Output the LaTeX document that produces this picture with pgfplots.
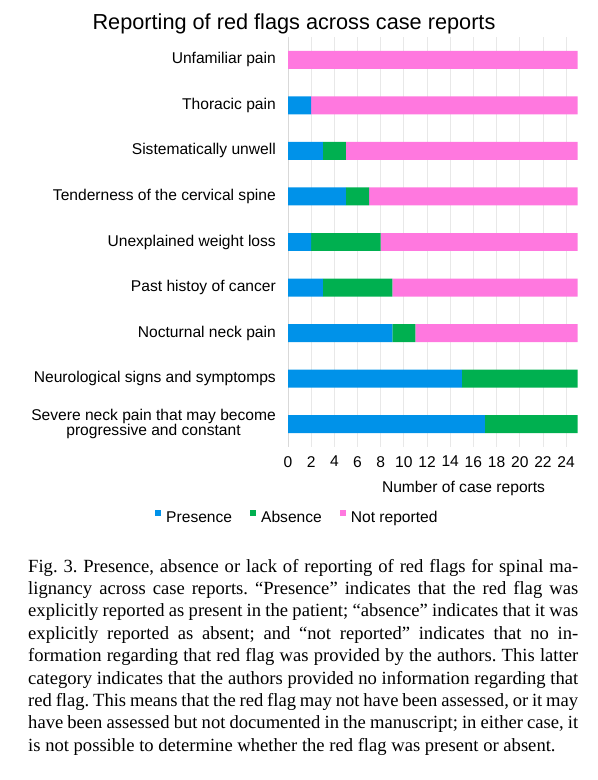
\documentclass[border=0pt]{standalone}
\usepackage{fontspec}
\setmainfont{Liberation Serif}
\setsansfont{Liberation Sans}
\usepackage{pgfplots}
\pgfplotsset{compat=1.18}
\usepackage{pgfplotstable}

\definecolor{presblue}{HTML}{0092E9}
\definecolor{absgreen}{HTML}{00B050}
\definecolor{nrpink}{HTML}{FF78DF}

% rows top to bottom: presence, absence, not reported
\pgfplotstableread{
row pres abs nrep
0 0 0 25
1 2 0 23
2 3 2 20
3 5 2 18
4 2 6 17
5 3 6 16
6 9 2 14
7 15 10 0
8 17 8 0
}\flags

\newcommand{\lab}{\sffamily\fontsize{15.6bp}{15bp}\selectfont}

\begin{document}
\frenchspacing
\begin{tikzpicture}
\useasboundingbox (0,0) rectangle (598bp,780bp);
\node[anchor=base, inner sep=0pt, font=\sffamily\fontsize{21.7bp}{26bp}\selectfont]
  at (294bp,750bp) {Reporting of red flags across case reports};
\begin{axis}[
  at={(288bp,333bp)}, anchor=south west,
  scale only axis, width=289.7bp, height=410bp,
  xbar stacked, bar width=0.395,
  xmin=0, xmax=25, ymin=-0.5, ymax=8.5, y dir=reverse,
  xtick={0,2,...,24}, ytick={0,...,8},
  yticklabels={Unfamiliar pain, Thoracic pain, Sistematically unwell,
    Tenderness of the cervical spine, Unexplained weight loss,
    Past histoy of cancer, Nocturnal neck pain,
    Neurological signs and symptomps,
    {Severe neck pain that may become\\progressive and constant}},
  axis x line*=bottom, axis y line*=left,
  x axis line style={draw=none}, y axis line style={draw=black!15, -},
  major tick length=0,
  xmajorgrids, grid style={draw=black!9, line width=0.8bp},
  /pgf/number format/assume math mode=true,
  xticklabel style={font=\lab, inner sep=0pt, anchor=north, yshift=-9bp},
  yticklabel style={font=\lab, align=center, inner sep=0pt, anchor=east, xshift=-12bp},
  xlabel={Number of case reports},
  xlabel style={font=\lab, at={(axis description cs:0.606,0)}, anchor=base, yshift=-45bp, inner sep=0pt},
  legend columns=3,
  legend style={at={(axis description cs:0.029,-0.17)}, anchor=center,
    draw=none, fill=none, inner sep=0pt, font=\lab,
    nodes={inner sep=0pt},
    /tikz/every odd column/.append style={column sep=5bp},
    /tikz/every even column/.append style={column sep=18bp}},
  legend image code/.code={\fill (0bp,2bp) rectangle (6bp,8bp);},
]
\addplot[draw=none, fill=presblue] table[x=pres, y=row] {\flags};
\addplot[draw=none, fill=absgreen] table[x=abs, y=row] {\flags};
\addplot[draw=none, fill=nrpink] table[x=nrep, y=row] {\flags};
\legend{Presence, Absence, Not reported}
\end{axis}
\node[anchor=north west, inner sep=0pt, font=\fontsize{18.6bp}{22.4bp}\selectfont] at (28bp,224bp) {\vbox{\baselineskip=22.4bp
\hbox to 550bp{\rule{0pt}{16bp}Fig. 3. Presence, absence or lack of reporting of red flags for spinal ma-}
\hbox to 550bp{lignancy across case reports. “Presence” indicates that the red flag was}
\hbox to 550bp{explicitly reported as present in the patient; “absence” indicates that it was}
\hbox to 550bp{explicitly reported as absent; and “not reported” indicates that no in-}
\hbox to 550bp{formation regarding that red flag was provided by the authors. This latter}
\hbox to 550bp{category indicates that the authors provided no information regarding that}
\hbox to 550bp{red flag. This means that the red flag may not have been assessed, or it may}
\hbox to 550bp{have been assessed but not documented in the manuscript; in either case, it}
\hbox{is not possible to determine whether the red flag was present or absent.}}};
\end{tikzpicture}
\end{document}
